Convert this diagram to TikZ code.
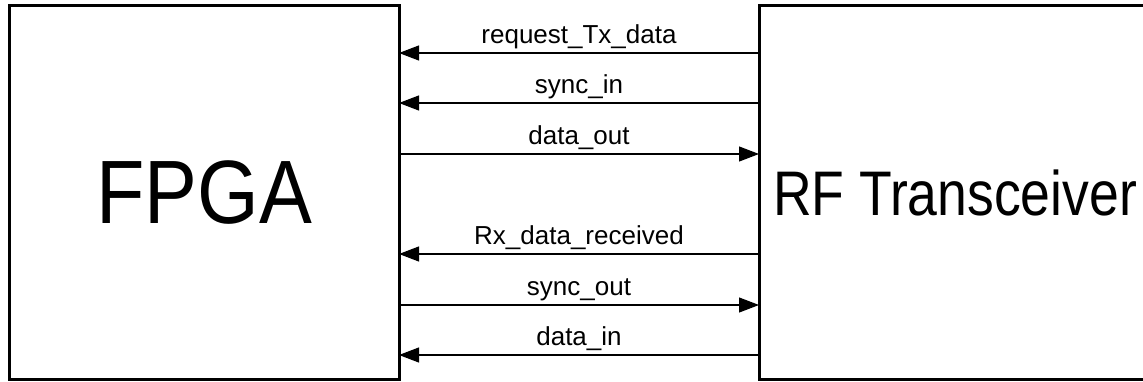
\documentclass[tikz,border=0pt]{standalone}
\usepackage{fontspec}
\setmainfont{Liberation Sans}
\usepackage{tikz}
\usetikzlibrary{arrows.meta, positioning, calc}

\begin{document}
\begin{tikzpicture}[x=1pt, y=1pt,
    block/.style={draw, line width=3pt, minimum height=373pt, inner sep=0pt, outer sep=0pt},
    sig/.style={line width=1.1pt, -{Triangle[length=20pt, width=15pt]}},
    siglabel/.style={above=4pt, inner sep=0pt, font=\fontsize{26}{26}\selectfont}
]
    \useasboundingbox (0,0) rectangle (1143,381);

    % FPGA and RF blocks
    \node (fpga) [block, minimum width=390pt] at (204,188.5)
        {\scalebox{0.88}[1]{\fontsize{90}{90}\selectfont FPGA}};
    \node (rf) [block, minimum width=392pt] at (955,188.5)
        {\scalebox{0.85}[1]{\fontsize{63}{63}\selectfont RF Transceiver}};

    % Tx side
    \draw[sig] (rf.west |- 0,328) -- (fpga.east |- 0,328)
        node[midway, siglabel] {request\_Tx\_data};
    \draw[sig] (rf.west |- 0,278) -- (fpga.east |- 0,278)
        node[midway, siglabel] {sync\_in};
    \draw[sig] (fpga.east |- 0,227) -- (rf.west |- 0,227)
        node[midway, siglabel] {data\_out};

    % Rx side
    \draw[sig] (rf.west |- 0,127) -- (fpga.east |- 0,127)
        node[midway, siglabel] {Rx\_data\_received};
    \draw[sig] (fpga.east |- 0,76) -- (rf.west |- 0,76)
        node[midway, siglabel] {sync\_out};
    \draw[sig] (rf.west |- 0,26) -- (fpga.east |- 0,26)
        node[midway, siglabel] {data\_in};
\end{tikzpicture}
\end{document}
